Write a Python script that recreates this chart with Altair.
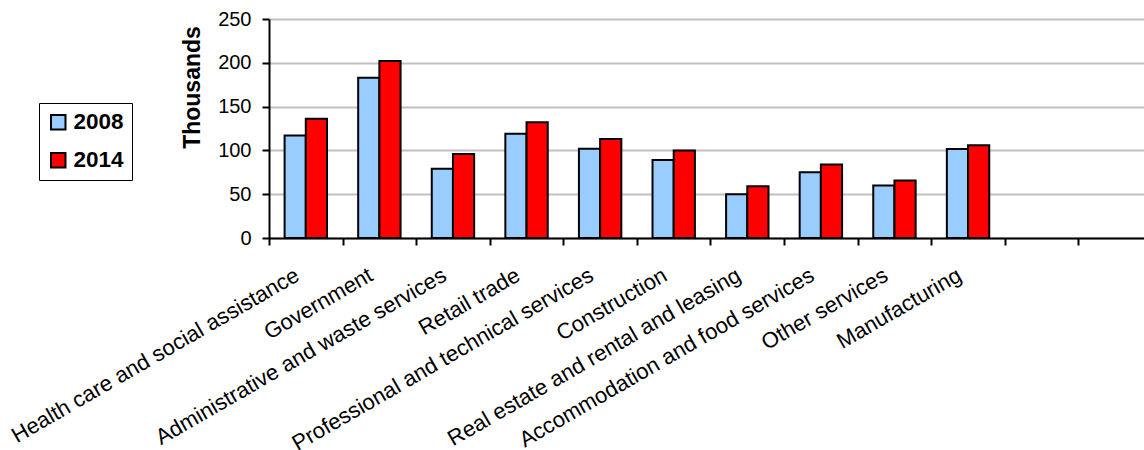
import altair as alt
import pandas as pd

# Employment by industry, in thousands
industries = [
    "Health care and social assistance",
    "Government",
    "Administrative and waste services",
    "Retail trade",
    "Professional and technical services",
    "Construction",
    "Real estate and rental and leasing",
    "Accommodation and food services",
    "Other services",
    "Manufacturing",
]
jobs_2008 = [117, 183, 79, 119, 102, 89, 50, 75, 60, 101.5]
jobs_2014 = [136, 202, 96, 132, 113, 100, 59, 84, 65.5, 106]
years = ["2008", "2014"]
y_ticks = [0, 50, 100, 150, 200, 250]

# two empty category slots follow the last industry
x_domain = industries + [" ", "  "]

rows = []
for name, a, b in zip(industries, jobs_2008, jobs_2014):
    rows.append({"industry": name, "year": "2008", "value": a})
    rows.append({"industry": name, "year": "2014", "value": b})
df = pd.DataFrame(rows)

FONT = "Liberation Sans"

chart = (
    alt.Chart(df)
    .mark_bar(stroke="black", strokeWidth=2)
    .encode(
        x=alt.X(
            "industry:N",
            sort=x_domain,
            scale=alt.Scale(domain=x_domain, range=[0, 883], paddingInner=0, paddingOuter=0),
            axis=alt.Axis(
                title=None,
                labelAngle=-30,
                labelAlign="right",
                labelBaseline="middle",
                labelFont=FONT,
                labelFontSize=22,
                labelColor="black",
                labelPadding=28,
                labelOffset=-9,
                labelOverlap=False,
                labelLimit=0,
                tickBand="extent",
                tickSize=7,
                tickWidth=2,
                tickColor="black",
                domainColor="black",
                domainWidth=2,
                grid=False,
            ),
        ),
        xOffset=alt.XOffset(
            "year:N", scale=alt.Scale(domain=years, paddingOuter=0.736, paddingInner=0)
        ),
        y=alt.Y(
            "value:Q",
            scale=alt.Scale(domain=[0, 250], nice=False),
            axis=alt.Axis(
                values=y_ticks,
                title="Thousands",
                titleFont=FONT,
                titleFontSize=23,
                titleFontWeight="bold",
                titleColor="black",
                titleAngle=270,
                titleAlign="center",
                titleBaseline="middle",
                titleX=-77,
                titleY=68,
                labelFont=FONT,
                labelFontSize=20,
                labelColor="black",
                labelPadding=11,
                tickSize=7,
                tickWidth=2,
                tickColor="black",
                domainColor="black",
                domainWidth=2,
                gridColor="#C0C0C0",
                gridWidth=2,
            ),
        ),
        color=alt.Color(
            "year:N",
            scale=alt.Scale(domain=years, range=["#99CCFF", "#FF0000"]),
            legend=alt.Legend(
                title=None,
                orient="none",
                legendX=-230,
                legendY=84,
                strokeColor="black",
                padding=8,
                symbolType="square",
                symbolSize=210,
                symbolStrokeColor="black",
                symbolStrokeWidth=2,
                symbolOpacity=1,
                labelFont=FONT,
                labelFontSize=22.5,
                labelFontWeight="bold",
                labelColor="black",
                labelOffset=4,
                rowPadding=15,
            ),
        ),
    )
    .properties(
        width=875,
        height=219,
        autosize=alt.AutoSizeParams(type="none"),
        padding={"left": 269, "top": 19, "right": 0, "bottom": 212},
    )
    .configure_view(stroke=None)
)

chart.save("out.html", embed_options={"renderer": "svg", "actions": False})
